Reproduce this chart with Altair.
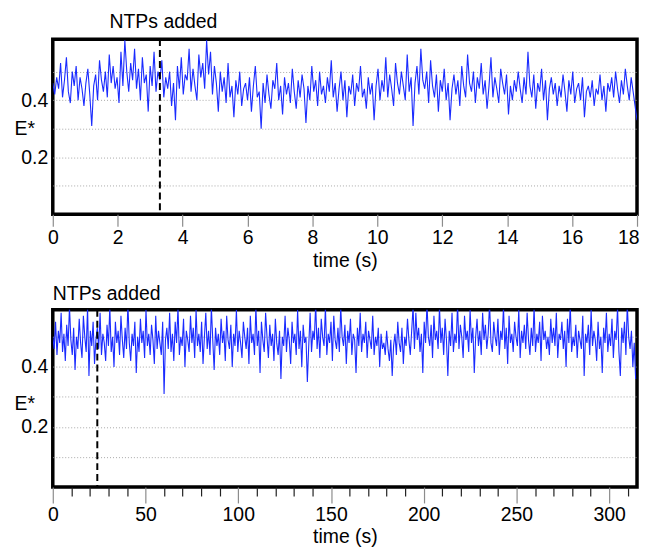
import altair as alt
import pandas as pd

# ---- data (E* traces) ----
top_values = [
    0.46,0.42,0.48,0.44,0.53,0.41,0.47,0.55,0.43,0.39,0.50,0.45,0.52,0.40,0.48,0.44,0.38,0.46,0.51,0.42,
    0.31,0.45,0.49,0.40,0.54,0.47,0.43,0.50,0.41,0.56,0.46,0.52,0.44,0.48,0.39,0.57,0.45,0.61,0.50,0.43,
    0.53,0.47,0.58,0.44,0.51,0.40,0.55,0.46,0.49,0.36,0.52,0.45,0.57,0.43,0.50,0.47,0.54,0.41,0.48,0.44,
    0.50,0.38,0.46,0.33,0.52,0.44,0.55,0.42,0.49,0.47,0.58,0.43,0.51,0.45,0.40,0.56,0.48,0.53,0.44,0.61,
    0.49,0.57,0.42,0.52,0.46,0.36,0.50,0.43,0.48,0.39,0.53,0.41,0.45,0.34,0.47,0.42,0.50,0.38,0.44,0.46,
    0.40,0.48,0.36,0.45,0.52,0.41,0.43,0.30,0.46,0.39,0.49,0.42,0.37,0.47,0.44,0.53,0.40,0.45,0.35,0.48,
    0.42,0.46,0.39,0.51,0.43,0.37,0.47,0.41,0.49,0.44,0.32,0.45,0.40,0.52,0.43,0.47,0.38,0.50,0.42,0.45,
    0.39,0.48,0.43,0.54,0.41,0.46,0.36,0.44,0.50,0.40,0.47,0.34,0.45,0.42,0.49,0.38,0.46,0.43,0.52,0.41,
    0.44,0.37,0.48,0.42,0.46,0.33,0.45,0.51,0.40,0.47,0.43,0.55,0.41,0.49,0.44,0.38,0.53,0.46,0.42,0.50,
    0.45,0.40,0.56,0.43,0.48,0.31,0.46,0.52,0.42,0.58,0.47,0.44,0.50,0.39,0.54,0.45,0.41,0.49,0.36,0.47,
    0.43,0.51,0.40,0.46,0.33,0.44,0.49,0.42,0.47,0.38,0.52,0.45,0.41,0.56,0.46,0.43,0.50,0.39,0.48,0.44,
    0.53,0.42,0.47,0.37,0.45,0.55,0.41,0.48,0.44,0.39,0.51,0.46,0.42,0.49,0.35,0.45,0.40,0.47,0.43,0.50,
    0.44,0.39,0.48,0.42,0.57,0.45,0.41,0.49,0.37,0.46,0.43,0.51,0.40,0.47,0.33,0.44,0.48,0.42,0.46,0.38,
    0.45,0.41,0.49,0.43,0.36,0.47,0.42,0.50,0.39,0.44,0.46,0.40,0.48,0.34,0.43,0.45,0.41,0.47,0.38,0.44,
    0.42,0.49,0.40,0.45,0.36,0.46,0.43,0.48,0.41,0.50,0.44,0.39,0.47,0.42,0.51,0.45,0.40,0.48,0.43,0.38,
    0.33,
]
bottom_values = [
    0.50,0.46,0.55,0.44,0.52,0.48,0.58,0.45,0.51,0.42,0.54,0.47,0.60,0.49,0.44,0.53,0.39,0.50,0.46,0.56,
    0.48,0.43,0.57,0.50,0.45,0.60,0.37,0.52,0.47,0.55,0.41,0.49,0.53,0.46,0.58,0.44,0.51,0.48,0.42,0.54,
    0.47,0.60,0.45,0.50,0.40,0.55,0.48,0.52,0.44,0.57,0.49,0.43,0.53,0.46,0.61,0.48,0.42,0.51,0.47,0.55,
    0.38,0.50,0.45,0.56,0.48,0.52,0.43,0.59,0.47,0.51,0.44,0.54,0.49,0.41,0.57,0.46,0.52,0.48,0.44,0.55,
    0.31,0.49,0.53,0.46,0.58,0.45,0.51,0.42,0.55,0.48,0.60,0.44,0.50,0.47,0.56,0.40,0.52,0.49,0.45,0.57,
    0.48,0.53,0.43,0.59,0.47,0.51,0.45,0.55,0.41,0.50,0.58,0.46,0.52,0.44,0.60,0.49,0.39,0.53,0.47,0.51,
    0.44,0.56,0.48,0.52,0.42,0.57,0.49,0.46,0.54,0.40,0.51,0.47,0.59,0.45,0.52,0.48,0.43,0.55,0.50,0.46,
    0.53,0.41,0.57,0.48,0.51,0.44,0.60,0.47,0.52,0.38,0.55,0.49,0.45,0.58,0.50,0.43,0.54,0.47,0.51,0.42,
    0.56,0.48,0.44,0.52,0.36,0.50,0.47,0.57,0.45,0.53,0.49,0.41,0.55,0.48,0.51,0.44,0.59,0.46,0.52,0.40,
    0.54,0.48,0.50,0.35,0.47,0.58,0.45,0.52,0.49,0.61,0.46,0.53,0.43,0.56,0.50,0.47,0.60,0.44,0.51,0.48,
    0.55,0.42,0.57,0.49,0.46,0.53,0.45,0.60,0.50,0.47,0.54,0.41,0.52,0.48,0.56,0.44,0.51,0.49,0.38,0.53,
    0.47,0.58,0.45,0.51,0.48,0.55,0.43,0.52,0.49,0.46,0.57,0.44,0.50,0.47,0.53,0.40,0.51,0.46,0.48,0.44,
    0.52,0.46,0.42,0.49,0.37,0.47,0.51,0.44,0.55,0.48,0.45,0.53,0.41,0.50,0.47,0.56,0.49,0.44,0.52,0.60,
    0.46,0.58,0.49,0.53,0.45,0.51,0.38,0.55,0.48,0.61,0.50,0.47,0.54,0.43,0.57,0.49,0.52,0.46,0.60,0.48,
    0.53,0.44,0.56,0.49,0.37,0.52,0.47,0.58,0.45,0.51,0.48,0.61,0.46,0.54,0.50,0.43,0.57,0.49,0.52,0.45,
    0.59,0.48,0.53,0.38,0.50,0.56,0.47,0.52,0.44,0.58,0.49,0.54,0.46,0.51,0.61,0.48,0.45,0.55,0.50,0.47,
    0.56,0.44,0.52,0.49,0.60,0.46,0.53,0.41,0.57,0.48,0.51,0.45,0.55,0.50,0.47,0.59,0.43,0.52,0.48,0.54,
    0.46,0.58,0.49,0.44,0.53,0.47,0.60,0.45,0.51,0.48,0.55,0.42,0.57,0.49,0.52,0.46,0.50,0.44,0.56,0.48,
    0.53,0.47,0.58,0.43,0.51,0.49,0.55,0.46,0.52,0.40,0.56,0.48,0.61,0.45,0.50,0.47,0.54,0.43,0.52,0.49,
    0.46,0.57,0.37,0.51,0.48,0.54,0.44,0.59,0.47,0.52,0.49,0.42,0.55,0.46,0.50,0.38,0.53,0.48,0.58,0.45,
    0.51,0.47,0.56,0.43,0.52,0.49,0.60,0.45,0.37,0.53,0.48,0.55,0.44,0.61,0.50,0.46,0.52,0.40,0.48,0.36,
]
top_dt = 0.06          # s between samples
bottom_dt = 0.75       # s between samples
top_ntp_time = [3.3]
bottom_ntp_time = [24]
top_x_ticks = [0, 2, 4, 6, 8, 10, 12, 14, 16, 18]
bottom_x_ticks = list(range(0, 320, 10))
y_grid = [0.1, 0.2, 0.3, 0.4, 0.5]
annotation = "NTPs added"

FONT = "Liberation Sans"
FS = 19.5

top_df = pd.DataFrame({"time": [i * top_dt for i in range(len(top_values))], "E": top_values})
bottom_df = pd.DataFrame({"time": [i * bottom_dt for i in range(len(bottom_values))], "E": bottom_values})


def y_axis(title_y):
    return alt.Axis(values=y_grid,
                    labelExpr="(datum.value == 0.2 || datum.value == 0.4) ? format(datum.value, '.1f') : ''",
                    ticks=False, domain=False, grid=True, gridColor="#a8a8a8",
                    gridDash=[1, 2], gridWidth=1, title="E*", titleAngle=0,
                    titleX=-39, titleY=title_y, titleAlign="left", titleBaseline="middle",
                    titleFontSize=FS, titleFontWeight="normal", labelFontSize=FS,
                    labelPadding=5, labelColor="black", titleColor="black",
                    labelFont=FONT, titleFont=FONT, labelOverlap=False)


top_x_axis = alt.Axis(values=top_x_ticks, title="time (s)", grid=False, domain=False,
                      tickColor="#8c8c8c", tickSize=12, tickWidth=1.2,
                      labelFontSize=FS, titleFontSize=FS, titleFontWeight="normal",
                      labelPadding=2, titlePadding=5, labelColor="black", titleColor="black",
                      labelFont=FONT, titleFont=FONT, labelFlush=False, labelOverlap=False,
                      labelAlign=alt.condition("datum.value == 18", alt.value("right"), alt.value("center")),
                      labelOffset=alt.condition("datum.value == 18", alt.value(2), alt.value(0)))

bottom_x_axis = alt.Axis(values=bottom_x_ticks,
                         labelExpr="datum.value % 50 == 0 ? datum.label : ''",
                         title="time (s)", grid=False, domain=False,
                         tickColor=alt.condition("datum.value % 50 == 0", alt.value("#8c8c8c"), alt.value("#222222")),
                         tickSize=alt.condition("datum.value % 50 == 0", alt.value(16), alt.value(9)),
                         tickWidth=1.2,
                         labelFontSize=FS, titleFontSize=FS, titleFontWeight="normal",
                         labelPadding=3, titlePadding=3, labelColor="black", titleColor="black",
                         labelFont=FONT, titleFont=FONT, labelFlush=False, labelOverlap=False)


def panel(df, ntp, xdom, x_axis, ydom, height, title_y, title_dx, title_offset):
    x_enc = alt.X("time:Q", scale=alt.Scale(domain=xdom, nice=False, zero=False), axis=x_axis)
    line = alt.Chart(df).mark_line(color="#1a2bff", strokeWidth=1.1, clip=True).encode(
        x=x_enc,
        y=alt.Y("E:Q", scale=alt.Scale(domain=ydom, nice=False, zero=False), axis=y_axis(title_y)),
    )
    rule = alt.Chart(pd.DataFrame({"time": ntp})).mark_rule(
        color="black", strokeDash=[7, 4], strokeWidth=2).encode(x=x_enc)
    return alt.layer(line, rule).properties(
        width=587, height=height,
        title=alt.TitleParams(annotation, anchor="start", frame="group", dx=title_dx,
                              fontSize=FS, fontWeight="normal", font=FONT, color="black",
                              offset=title_offset),
    )


top = panel(top_df, top_ntp_time, [0, 18], top_x_axis, [0, 0.614], 176, 90, 57, 6)
bottom = panel(bottom_df, bottom_ntp_time, [0, 315], bottom_x_axis, [0, 0.59], 178, 94, 0, 4)

chart = alt.vconcat(top, bottom, spacing=10).properties(
    padding={"left": 4, "top": 0, "right": 0, "bottom": 0}
).configure(
    font=FONT, background="white"
).configure_view(stroke="black", strokeWidth=3.5)

chart.save("out.html", embed_options={"renderer": "svg", "actions": False})
